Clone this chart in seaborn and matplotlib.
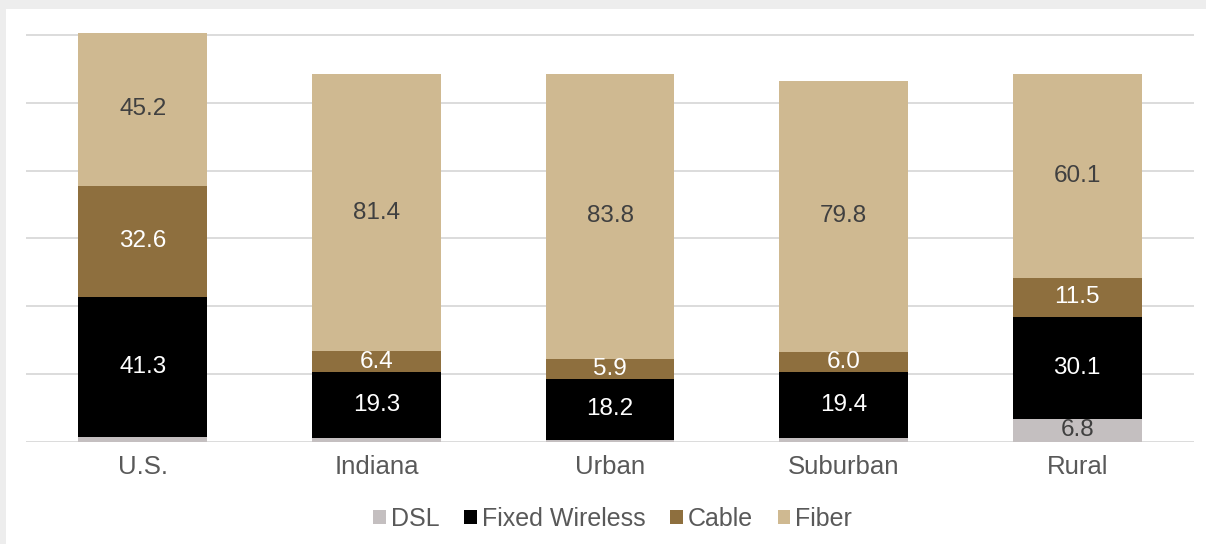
import matplotlib
matplotlib.use("Agg")
import matplotlib.pyplot as plt
from matplotlib.patches import Patch, Rectangle
import numpy as np
import seaborn as sns

# Broadband technology shares by area (%)
categories = ["U.S.", "Indiana", "Urban", "Suburban", "Rural"]
dsl = [1.5, 1.2, 0.5, 1.2, 6.8]
fixed_wireless = [41.3, 19.3, 18.2, 19.4, 30.1]
cable = [32.6, 6.4, 5.9, 6.0, 11.5]
fiber = [45.2, 81.4, 83.8, 79.8, 60.1]

series_names = ["DSL", "Fixed Wireless", "Cable", "Fiber"]
series_values = [dsl, fixed_wireless, cable, fiber]
colors = ["#C4BFC0", "#000000", "#8E6F3E", "#CFB991"]
label_colors = ["#404040", "#FFFFFF", "#FFFFFF", "#404040"]

sns.set_theme(style="white")
plt.rcParams["font.family"] = ["Liberation Sans", "DejaVu Sans"]

fig = plt.figure(figsize=(12.06, 5.44), dpi=100)
fig.patch.set_facecolor("#EDEDED")
fig.patches.append(Rectangle((6 / 1206, 0), 1, 1 - 9 / 544, transform=fig.transFigure,
                             facecolor="white", edgecolor="none", zorder=0))

ax = fig.add_axes([26 / 1206, 1 - 442 / 544, 1168 / 1206, (442 - 28) / 544])
ax.set_facecolor("none")
ax.set_zorder(2)

bottom = np.zeros(len(categories))
for name, vals, col, lcol in zip(series_names, series_values, colors, label_colors):
    vals = np.asarray(vals, dtype=float)
    sns.barplot(x=categories, y=vals, color=col, bottom=bottom, width=0.552,
                saturation=1, linewidth=0, ax=ax, label=name, zorder=3)
    cont = ax.containers[-1]
    labels = [f"{v:.1f}" if v >= 2 else "" for v in vals]
    ax.bar_label(cont, labels=labels, label_type="center", color=lcol,
                 fontsize=17.5, zorder=4)
    bottom = bottom + vals

ax.set_xlim(-0.5, len(categories) - 0.5)
ax.set_ylim(0, 122)
ax.set_yticks(np.arange(0, 121, 20))
ax.set_yticklabels([])
ax.yaxis.grid(True, color="#D9D9D9", linewidth=1.3)
ax.set_axisbelow(True)
for s in ax.spines.values():
    s.set_visible(False)
ax.tick_params(axis="x", length=0, pad=9, labelsize=18.5, labelcolor="#595959")
ax.tick_params(axis="y", length=0)
ax.set_xlabel("")
ax.set_ylabel("")

handles = [Patch(facecolor=c, edgecolor="none") for c in colors]
fig.legend(handles, series_names, loc="center", bbox_to_anchor=(0.508, 0.046),
           ncol=4, frameon=False, fontsize=18, labelcolor="#595959",
           handlelength=0.5, handleheight=0.5, handletextpad=0.2,
           columnspacing=1.0)
if ax.get_legend() is not None:
    ax.get_legend().remove()

fig.savefig("out.png", dpi=100, facecolor=fig.get_facecolor())
